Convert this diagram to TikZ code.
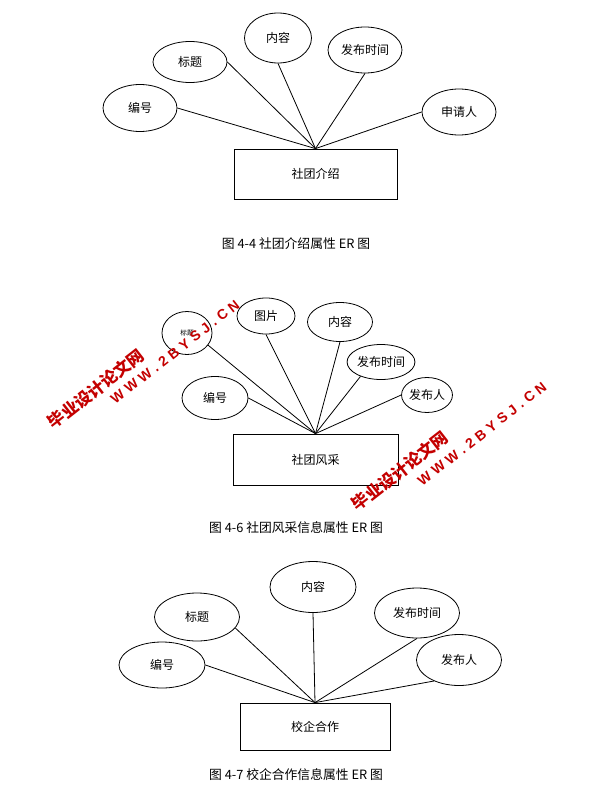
\documentclass[tikz,border=0pt]{standalone}
\usepackage{fontspec}
\setmainfont{Noto Sans CJK SC}
\newfontfamily\wmlat{Liberation Sans}
\usetikzlibrary{shapes.geometric}
\newcommand{\pxu}{0.75pt}
\newcommand{\wk}{\kern3.2pt}
\definecolor{wmred}{RGB}{196,0,0}
\begin{document}
\begin{tikzpicture}[x=0.75pt,y=-0.75pt,
  attr/.style={draw, ellipse, inner sep=0pt, line width=0.6pt, font=\fontsize{9}{10}\selectfont},
  ent/.style={draw, rectangle, inner sep=0pt, line width=0.6pt, font=\fontsize{9}{10}\selectfont},
  link/.style={line width=0.6pt},
  captext/.style={font=\fontsize{9.6}{11}\selectfont, inner sep=0pt},
  wmcn/.style={text=wmred, rotate=38, inner sep=0pt, font=\fontsize{12.5}{13}\selectfont\bfseries},
  wmen/.style={text=wmred, rotate=38, inner sep=0pt, font=\fontsize{10.5}{12}\wmlat\bfseries}
]
\useasboundingbox[fill=white] (0,0) rectangle (597,806);

% ---------- Diagram 1 ----------
\node[attr, minimum width=74*\pxu, minimum height=47*\pxu] (a1) at (140,108) {编号};
\node[attr, minimum width=74*\pxu, minimum height=41*\pxu] (a2) at (190,62) {标题};
\node[attr, minimum width=67*\pxu, minimum height=50*\pxu] (a3) at (278,38) {内容};
\node[attr, minimum width=74*\pxu, minimum height=46*\pxu] (a4) at (365,50) {发布时间};
\node[attr, minimum width=74*\pxu, minimum height=46*\pxu] (a5) at (459,112) {申请人};
\node[ent, minimum width=163*\pxu, minimum height=50*\pxu] (r1) at (315.5,174) {社团介绍};
\draw[link] (a1.east) -- (r1.north);
\draw[link] (a2.east) -- (r1.north);
\draw[link] (a3.south) -- (r1.north);
\draw[link] (a4.south) -- (r1.north);
\draw[link] (a5.west) -- (r1.north);
\node[captext] (c1) at (296,244) {图 4-4 社团介绍属性 ER 图};

% ---------- Diagram 2 ----------
\node[attr, minimum width=50*\pxu, minimum height=43*\pxu, font=\fontsize{5}{6}\selectfont] (b1) at (187,333) {标题};
\node[attr, minimum width=58*\pxu, minimum height=36*\pxu] (b2) at (266,316) {图片};
\node[attr, minimum width=65*\pxu, minimum height=39*\pxu] (b3) at (340,322) {内容};
\node[attr, minimum width=57*\pxu, minimum height=35*\pxu] (b4) at (381,362) {发布时间};
\node[attr, minimum width=49*\pxu, minimum height=35*\pxu] (b5) at (427,395) {发布人};
\node[attr, minimum width=66*\pxu, minimum height=43*\pxu] (b6) at (215,398) {编号};
\node[ent, minimum width=165*\pxu, minimum height=51*\pxu] (r2) at (315.5,459.5) {社团风采};
\draw[link] (b1.-30) -- (r2.north);
\draw[link] (b2.south) -- (r2.north);
\draw[link] (b3.south) -- (r2.north);
\draw[link] (b4.-145) -- (r2.north);
\draw[link] (b5.west) -- (r2.north);
\draw[link] (b6.east) -- (r2.north);
\node[captext] (c2) at (296,528) {图 4-6 社团风采信息属性 ER 图};

% ---------- Diagram 3 ----------
\node[attr, minimum width=86*\pxu, minimum height=46*\pxu] (d1) at (162,665) {编号};
\node[attr, minimum width=85*\pxu, minimum height=48*\pxu] (d2) at (197,617) {标题};
\node[attr, minimum width=86*\pxu, minimum height=51*\pxu] (d3) at (313,587) {内容};
\node[attr, minimum width=85*\pxu, minimum height=50*\pxu] (d4) at (417,613) {发布时间};
\node[attr, minimum width=85*\pxu, minimum height=51*\pxu] (d5) at (459,660) {发布人};
\node[ent, minimum width=150*\pxu, minimum height=47*\pxu] (r3) at (315,726.5) {校企合作};
\draw[link] (d1.east) -- (r3.north);
\draw[link] (d2.-16) -- (r3.north);
\draw[link] (d3.south) -- (r3.north);
\draw[link] (d4.south) -- (r3.north);
\draw[link] (d5.-140) -- (r3.north);
\node[captext] (c3) at (296,775) {图 4-7 校企合作信息属性 ER 图};

% ---------- Watermarks ----------
\node[wmcn] (w1) at (96,389) {毕业设计论文网};
\node[wmen] (w2) at (175,352) {W\wk W\wk W\wk .\wk 2\wk B\wk Y\wk S\wk J\wk .\wk C\wk N};
\node[wmcn] (w3) at (400,471) {毕业设计论文网};
\node[wmen] (w4) at (482,434) {W\wk W\wk W\wk .\wk 2\wk B\wk Y\wk S\wk J\wk .\wk C\wk N};
\end{tikzpicture}
\end{document}
